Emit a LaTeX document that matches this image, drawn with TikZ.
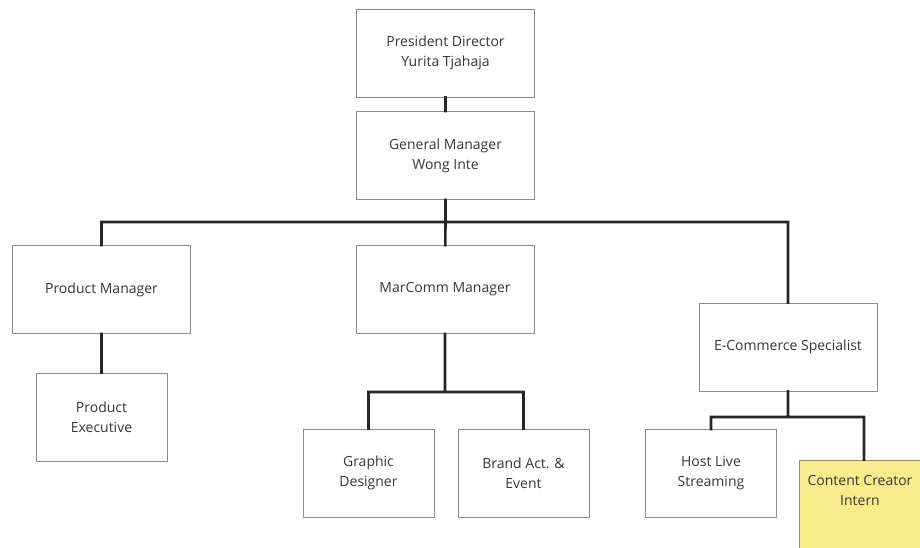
\documentclass[tikz,border=0pt]{standalone}
\usepackage{fontspec}
\setmainfont{Open Sans}
\usepackage{tikz}
\usetikzlibrary{positioning}
\usetikzlibrary{calc}
\definecolor{boxline}{RGB}{140,140,140}
\definecolor{boxtext}{RGB}{55,55,55}
\definecolor{notefill}{RGB}{248,236,140}
\tikzset{role box/.style={rectangle,draw=boxline,line width=1pt,fill=white,text=boxtext,align=center,font=\fontsize{14}{20}\selectfont,minimum height=88pt,inner sep=0pt},
         wide box/.style={role box,minimum width=178pt},
         small box/.style={role box,minimum width=131pt},}

\begin{document}
\begin{tikzpicture}[x=1pt,y=-1pt,link/.style={draw=black!85,line width=2.6pt,line cap=rect}]
    \clip (0,0) rectangle (920,547);
    \fill[white] (0,0) rectangle (920,547);

    \node[wide box] (pres) at (445.5,53) {President Director\\Yurita Tjahaja};
    \node[wide box] (gm) at (445.5,155.5) {General Manager\\Wong Inte};
    \node[wide box] (pm) at (101.5,289.5) {Product Manager};
    \node[small box] (pe) at (101.5,417) {Product\\Executive};
    \node[wide box] (mc) at (445,289.5) {MarComm Manager};
    \node[small box] (gd) at (368.5,473) {Graphic\\Designer};
    \node[small box] (ba) at (523.5,473) {Brand Act. \&\\Event};
    \node[wide box] (ec) at (788,347) {E-Commerce Specialist};
    \node[small box] (hl) at (711,473.5) {Host Live\\Streaming};
    \node[role box,minimum width=130pt,minimum height=100pt,fill=notefill] (cc) at (864,510) {};
    \node[text=boxtext,align=center,font=\fontsize{14}{20}\selectfont] (cctext) at (860,490) {Content Creator\\Intern};

    \coordinate (top bar) at (445.5,222);
    \coordinate (mc bar) at (445,392);
    \coordinate (ec bar) at (788,417);

    \path[link]
    (pres) -- (gm)
    (gm) -- (top bar)
    (top bar) -| (pm)
    (top bar) -- (mc)
    (top bar) -| (ec)
    (pm) -- (pe)
    (mc) -- (mc bar)
    (mc bar) -| (gd)
    (mc bar) -| (ba)
    (ec) -- (ec bar)
    (ec bar) -| (hl)
    (ec bar) -| (cc);
\end{tikzpicture}
\end{document}
